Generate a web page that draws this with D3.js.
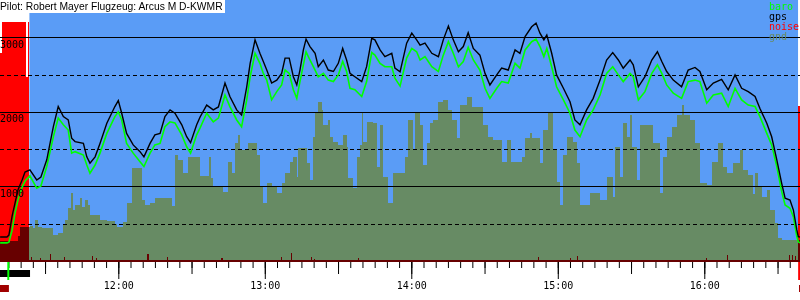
<!DOCTYPE html>
<html><head><meta charset="utf-8">
<script src="https://cdn.jsdelivr.net/npm/d3@7"></script>
<style>
body{margin:0;background:#fff;}
svg{display:block;}
</style></head><body>
<svg id="chart" width="800" height="300"></svg>
<script>
const title = "Pilot: Robert Mayer Flugzeug: Arcus M D-KWMR";
const legendNames = ["baro", "gps", "noise", "gnd"];

// all times are minutes after 11:00
const trackMin = [11.6,14.4,15.2,16.5,17.7,18.9,20.6,21.8,23.8,26.6,28.3,30.7,33.4,35.4,37.5,39.5,40.9,42.3,45.7,47.1,
  48.4,50.5,52.5,55.3,58.6,60.0,61.4,63.4,66.1,68.9,70.5,73.0,75.0,77.1,79.1,81.2,83.2,86.0,88.0,89.6,
  92.1,93.5,96.2,98.9,101.0,103.7,105.7,108.5,110.5,112.6,114.0,116.0,118.0,119.4,120.8,122.8,124.9,126.9,128.3,130.0,
  131.7,133.1,134.4,135.8,136.9,138.5,140.6,141.9,144.0,146.0,148.1,150.1,151.9,153.5,154.9,156.9,159.7,161.7,163.8,165.1,
  167.2,169.2,172.0,173.3,175.4,178.1,180.2,182.2,183.6,185.6,188.4,191.1,193.1,195.2,197.2,199.3,201.3,203.3,205.4,208.1,
  210.2,212.2,215.0,217.0,219.7,222.5,224.5,226.6,229.3,231.1,232.7,234.3,235.5,237.5,239.5,242.3,245.0,247.0,249.1,251.8,
  254.5,257.3,260.0,262.5,264.8,266.8,269.6,270.9,273.0,275.7,278.5,280.8,282.6,284.6,287.3,290.7,293.4,296.2,298.2,301.0,
  303.7,307.1,309.8,312.6,315.3,318.0,320.8,322.8,325.6,327.6,329.7,331.7,333.1,335.1,336.5,337.9,338.5,339.2];
const gpsAlt = [320,320,345,600,775,950,1085,1190,1220,1085,1125,1355,1800,2070,1935,1890,1645,1600,1575,1395,
  1310,1395,1575,1845,2070,2150,1980,1710,1555,1465,1395,1575,1690,1710,1935,2025,1980,1825,1665,1585,
  1825,1930,2090,2025,2065,2385,2205,2025,1955,2335,2650,2965,2785,2675,2560,2385,2425,2515,2720,2720,
  2470,2360,2560,2830,2975,2875,2785,2605,2695,2560,2540,2650,2850,2695,2515,2470,2405,2605,2985,2965,
  2830,2740,2785,2585,2535,2920,3055,2965,2895,2920,2785,2740,2965,3150,2965,2805,2875,3060,2850,2760,
  2515,2360,2495,2585,2560,2830,2785,3010,3140,3190,3055,2965,3030,2785,2495,2315,2135,1890,1825,2025,
  2180,2425,2695,2795,2695,2585,2695,2630,2335,2470,2695,2805,2675,2540,2425,2335,2560,2595,2540,2295,
  2385,2435,2295,2495,2315,2270,2205,2045,1845,1665,1355,1040,840,815,680,415,325,320];
const baroAlt = [240,240,250,410,640,815,990,1070,1140,975,1005,1265,1665,1915,1825,1755,1445,1465,1420,1285,
  1175,1285,1445,1710,1935,2000,1890,1575,1445,1330,1265,1445,1555,1575,1800,1865,1850,1690,1530,1445,
  1690,1785,1980,1865,1915,2225,2070,1890,1800,2160,2470,2785,2650,2515,2425,2160,2270,2360,2560,2515,
  2295,2180,2405,2630,2805,2695,2560,2470,2515,2425,2405,2495,2675,2540,2315,2295,2205,2405,2795,2760,
  2650,2605,2605,2450,2345,2720,2850,2805,2695,2740,2605,2540,2760,2940,2785,2605,2675,2865,2695,2560,
  2315,2180,2315,2405,2385,2650,2585,2830,2940,2975,2875,2740,2850,2605,2335,2160,1980,1755,1665,1890,
  2025,2225,2515,2605,2495,2405,2515,2470,2160,2270,2515,2630,2515,2360,2250,2180,2405,2425,2405,2115,
  2225,2250,2070,2315,2160,2090,2070,1935,1710,1555,1265,930,750,705,590,325,255,240];

const gndMin = [11.6,18.9,19.7,23.8,25.1,25.9,27.1,28.8,33.3,35.3,37.4,38.2,39.4,40.6,41.5,42.3,44.3,45.1,46.4,47.6,
  48.4,52.5,55.4,58.7,59.5,61.9,63.6,65.6,67.7,69.7,70.9,73.0,75.0,79.9,82.0,83.2,84.5,86.5,88.6,93.5,
  97.2,98.0,98.8,102.9,104.9,106.6,107.8,109.0,109.8,113.1,116.8,118.0,119.3,120.9,123.0,125.0,127.0,128.3,130.3,131.6,
  133.2,133.6,137.3,138.5,139.7,140.6,141.8,143.4,143.8,145.9,146.7,147.9,150.0,152.0,153.7,154.1,156.1,157.8,159.0,159.8,
  160.2,161.9,164.3,166.0,167.2,168.4,170.5,172.5,177.4,178.7,180.7,181.5,183.6,184.8,186.4,187.7,188.9,190.9,193.0,195.0,
  196.7,198.7,199.9,202.8,204.9,209.4,211.4,213.5,217.1,219.2,220.8,225.3,226.6,228.6,229.4,232.7,233.9,236.0,238.0,239.7,
  240.9,242.1,243.8,246.2,247.9,249.1,253.2,257.3,260.2,262.6,263.4,265.5,266.7,268.3,269.6,270.4,272.4,273.7,279.0,281.9,
  283.1,284.7,286.8,288.8,290.9,291.7,294.1,296.2,298.2,301.1,303.2,305.6,307.7,309.3,311.8,314.6,315.9,317.9,319.9,320.8,
  322.0,323.6,325.7,326.9,329.0,330.2,331.8,339.2];
const gndAlt = [260,330,460,465,435,550,450,435,345,370,500,550,710,910,680,750,845,725,815,750,
  615,550,540,500,460,525,770,1240,1250,815,750,770,840,840,730,1420,1355,1180,1395,1140,
  1395,1105,985,930,1330,1175,1575,1690,1485,1575,1420,995,770,1040,995,905,1040,1175,1330,1395,
  1130,1510,1310,1085,1665,1980,2135,2020,1825,1890,1665,1600,1555,1690,1530,1105,975,1395,1560,2000,
  1600,1865,1850,1265,1825,1130,770,1175,1395,1890,1500,2000,1825,1285,1575,1845,1890,2135,2160,2025,
  1890,1645,2090,2195,2070,1825,1665,1620,1330,1620,1330,1395,1645,1710,1645,1310,1755,1980,1485,1060,
  750,1420,1665,1600,1310,750,905,815,1130,850,1530,1130,1845,1665,1955,1530,1085,1825,1575,905,
  1395,1665,1800,1955,2090,1955,1890,1575,1040,1020,1330,1575,1265,1175,1310,1485,1220,1150,900,1175,
  995,860,950,680,505,300,280,280];

// engine noise level, 0..1000
const noiseMin = [11.55,12.4,22.2,23.0,23.55,24.25,24.65,27.9,28.3,32.0,32.4,37.8,38.2,49.2,49.6,50.9,51.3,71.7,72.5,79.9,
  80.3,102.1,102.9,126.6,127.0,130.7,131.1,138.9,139.3,140.2,140.6,158.2,158.6,231.9,232.3,245.0,245.4,247.9,248.3,300.7,
  301.1,309.3,309.7,334.7,335.1,335.9,336.3,337.2,337.6,338.4,339.2];
const noiseLevel = [870,999,770,999,8,22,8,17,8,33,8,21,8,25,8,17,8,33,8,21,
  8,17,8,21,8,37,8,21,8,12,8,17,8,21,8,17,8,25,8,17,
  8,29,8,29,8,29,8,25,8,650,650];

const altGrid = [500, 1000, 1500, 2000, 2500, 3000];
const altLabels = [1000, 2000, 3000];
const airborneMin = [23.6, 338.4];
const engineRunMin = [11.55, 23.85];
const groundMin = [[11.55, 15.2], [338.8, 339.2]];
const takeoffMin = 14.95;
const landingMin = 338.85;
const viewMin = [11.55, 339.2];

const colors = {baro: "#00ff00", gps: "#000000", noise: "#ff0000", gnd: "#678b64",
  sky: "#5a9cf6", ground: "#a00000"};

const toDate = m => new Date(2020, 6, 1, 11, 0, 0, Math.round(m * 60000));

const svg = d3.select("#chart");
const x = d3.scaleTime().domain(viewMin.map(toDate)).range([0, 800]);
const y = d3.scaleLinear().domain([0, 3500]).range([260.8, 0]);
const yNoise = d3.scaleLinear().domain([0, 1000]).range([262, 22]);

const track = trackMin.map((m, i) => ({t: toDate(m), gps: gpsAlt[i], baro: baroAlt[i]}));
const gnd = gndMin.map((m, i) => ({t: toDate(m), v: gndAlt[i]}));
const noise = noiseMin.map((m, i) => ({t: toDate(m), v: noiseLevel[i]}));

svg.append("rect").attr("width", 800).attr("height", 300).attr("fill", "#fff");

svg.append("rect")
    .attr("x", x(toDate(airborneMin[0])))
    .attr("y", 0)
    .attr("width", x(toDate(airborneMin[1])) - x(toDate(airborneMin[0])))
    .attr("height", 262)
    .attr("fill", colors.sky);

svg.append("path")
    .datum(gnd)
    .attr("fill", colors.gnd)
    .attr("shape-rendering", "crispEdges")
    .attr("d", d3.area().curve(d3.curveStepAfter).x(d => x(d.t)).y0(262).y1(d => y(d.v)));

svg.append("path")
    .datum(noise)
    .attr("fill", colors.noise)
    .attr("shape-rendering", "crispEdges")
    .style("mix-blend-mode", "multiply")
    .attr("d", d3.area().curve(d3.curveStepAfter).x(d => x(d.t)).y0(262).y1(d => yNoise(d.v)));

//altitude grid, full thousands solid
svg.append("g").selectAll("line")
    .data(altGrid)
    .join("line")
    .attr("x1", 0).attr("x2", 800)
    .attr("y1", d => Math.round(y(d)) + 0.5)
    .attr("y2", d => Math.round(y(d)) + 0.5)
    .attr("stroke", "#000")
    .attr("stroke-width", 1)
    .attr("stroke-dasharray", d => d % 1000 ? "4,3" : null);

svg.append("path")
    .datum(track)
    .attr("fill", "none")
    .attr("stroke", colors.baro)
    .attr("stroke-width", 1.6)
    .attr("d", d3.line().x(d => x(d.t)).y(d => y(d.baro)));

svg.append("path")
    .datum(track)
    .attr("fill", "none")
    .attr("stroke", colors.gps)
    .attr("stroke-width", 1.4)
    .attr("d", d3.line().x(d => x(d.t)).y(d => y(d.gps)));

svg.append("g").selectAll("text")
    .data(altLabels)
    .join("text")
    .attr("x", 0)
    .attr("y", d => y(d) + 10.5)
    .attr("font-family", "DejaVu Sans Mono")
    .attr("font-size", 10)
    .text(d => d);

let titleBox = svg.append("rect")
    .attr("x", 0).attr("y", 0)
    .attr("height", 13)
    .attr("fill", "#fff");
let titleText = svg.append("text")
    .attr("x", 0).attr("y", 10)
    .attr("font-family", "Liberation Sans, Arial, sans-serif")
    .attr("font-size", 10.3)
    .text(title);
titleBox.attr("width", Math.ceil(titleText.node().getBBox().width) + 2);

svg.append("g").selectAll("text")
    .data(legendNames)
    .join("text")
    .attr("x", 769)
    .attr("y", (d, i) => 10 + i * 10)
    .attr("font-family", "DejaVu Sans Mono")
    .attr("font-size", 10)
    .attr("fill", d => colors[d])
    .text(d => d);

// time axis: 5 min, 30 min and hourly ticks
const axisY = 262;
const addTicks = (interval, size, labels) => {
    let g = svg.append("g")
        .attr("transform", `translate(0,${axisY})`)
        .call(d3.axisBottom(x)
            .ticks(interval)
            .tickSize(size)
            .tickPadding(3)
            .tickFormat(labels ? d3.timeFormat("%H:%M") : ""));
    g.select(".domain").remove();
    g.selectAll("line").attr("stroke", "#000");
    g.selectAll("text")
        .attr("font-family", "DejaVu Sans Mono")
        .attr("font-size", 10)
        .attr("fill", "#000");
};
addTicks(d3.timeMinute.every(5), 6, false);
addTicks(d3.timeMinute.every(30), 12, false);
addTicks(d3.timeHour.every(1), 17, true);

svg.append("rect")
    .attr("x", x(toDate(engineRunMin[0])))
    .attr("y", 270)
    .attr("width", x(toDate(engineRunMin[1])) - x(toDate(engineRunMin[0])))
    .attr("height", 7)
    .attr("fill", "#000");

svg.append("g").selectAll("rect")
    .data(groundMin)
    .join("rect")
    .attr("x", d => x(toDate(d[0])))
    .attr("y", 285)
    .attr("width", d => x(toDate(d[1])) - x(toDate(d[0])))
    .attr("height", 7)
    .attr("fill", colors.ground);

svg.append("line")
    .attr("x1", x(toDate(takeoffMin))).attr("x2", x(toDate(takeoffMin)))
    .attr("y1", 262).attr("y2", 280)
    .attr("stroke", colors.baro).attr("stroke-width", 2);

svg.append("line")
    .attr("x1", x(toDate(landingMin))).attr("x2", x(toDate(landingMin)))
    .attr("y1", 262).attr("y2", 280)
    .attr("stroke", colors.noise).attr("stroke-width", 2);
</script>
</body></html>
